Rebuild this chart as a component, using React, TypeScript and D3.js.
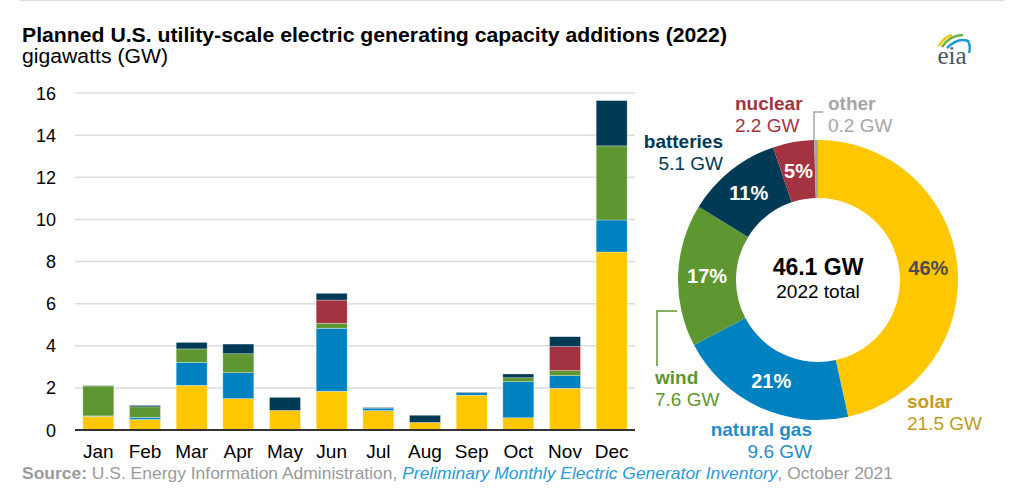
import React from "react";
import * as d3 from "d3";

const months = ["Jan", "Feb", "Mar", "Apr", "May", "Jun", "Jul", "Aug", "Sep", "Oct", "Nov", "Dec"];
const solar = [0.65, 0.5, 2.12, 1.49, 0.93, 1.84, 0.92, 0.36, 1.65, 0.58, 1.98, 8.45];
const naturalGas = [0.02, 0.1, 1.09, 1.23, 0, 2.99, 0.12, 0, 0.12, 1.71, 0.6, 1.52];
const wind = [1.42, 0.5, 0.64, 0.9, 0, 0.24, 0, 0, 0, 0.19, 0.24, 3.52];
const nuclear = [0, 0, 0, 0, 0, 1.1, 0, 0, 0, 0, 1.14, 0];
const batteries = [0.02, 0.07, 0.31, 0.46, 0.62, 0.32, 0.03, 0.34, 0.03, 0.18, 0.47, 2.15];
const yTicks = [0, 2, 4, 6, 8, 10, 12, 14, 16];

const donutNames = ["solar", "natural gas", "wind", "batteries", "nuclear", "other"];
const donutValues = [21.5, 9.6, 7.6, 5.1, 2.2, 0.2];
const donutPct = ["46%", "21%", "17%", "11%", "5%", ""];
const donutGW = ["21.5 GW", "9.6 GW", "7.6 GW", "5.1 GW", "2.2 GW", "0.2 GW"];

const seriesKeys = ["solar", "naturalGas", "wind", "nuclear", "batteries"];
const seriesValues: Record<string, number[]> = { solar, naturalGas, wind, nuclear, batteries };

const COLORS: Record<string, string> = {
  solar: "#FFC700",
  naturalGas: "#0081C0",
  wind: "#5E9732",
  nuclear: "#A33340",
  batteries: "#003A54",
  other: "#A6A6A6",
};
const donutColors = [COLORS.solar, COLORS.naturalGas, COLORS.wind, COLORS.batteries, COLORS.nuclear, COLORS.other];
const pctColors = ["#4d4d4d", "#fff", "#fff", "#fff", "#fff", "#fff"];
const labelColors = ["#C49A1B", "#1F8CCB", "#5E9732", "#003A54", "#A33340", "#A6A6A6"];

const FONT = "Arial, 'Liberation Sans', sans-serif";

export default function App() {
  const x = d3.scaleBand<string>().domain(months).range([75, 635]).paddingInner(0.336).paddingOuter(0.168);
  const y = d3.scaleLinear().domain([0, 16]).range([430, 93]);

  const rows = months.map((m, i) => {
    const r: any = { month: m };
    seriesKeys.forEach((k) => (r[k] = seriesValues[k][i]));
    return r;
  });
  const stacked = d3.stack<any>().keys(seriesKeys)(rows);

  const cx = 818, cy = 280, rOuter = 140, rInner = 82;
  const pie = d3.pie<number>().sort(null).value((d) => d)(donutValues);
  const arc = d3.arc<d3.PieArcDatum<number>>().innerRadius(rInner).outerRadius(rOuter);
  const labelArc = d3.arc<d3.PieArcDatum<number>>().innerRadius(111).outerRadius(111);

  const outside: [number, number, string][] = [
    [907, 408, "start"],
    [812, 436, "end"],
    [655, 384, "start"],
    [723, 148, "end"],
    [735, 110, "start"],
    [828, 110, "start"],
  ];

  return (
    <svg width={1024} height={488} style={{ position: "absolute", left: 0, top: 0 }} fontFamily={FONT}>
      <rect width={1024} height={488} fill="#fff" />
      <line x1={20} x2={1004} y1={0.5} y2={0.5} stroke="#dddddd" strokeWidth={1.5} />
      <text x={22} y={42} fontSize={21} fontWeight="bold" fill="#000" textLength={705} lengthAdjust="spacingAndGlyphs">
        Planned U.S. utility-scale electric generating capacity additions (2022)
      </text>
      <text x={22} y={63} fontSize={20.5} fill="#000" textLength={146} lengthAdjust="spacingAndGlyphs">
        gigawatts (GW)
      </text>

      {/* logo */}
      <g>
        <path d="M939,46 Q944,37 952,35" fill="none" stroke="#F2C811" strokeWidth={2.5} />
        <path d="M942,47 Q950,35 963,35" fill="none" stroke="#6DB33F" strokeWidth={2.5} />
        <path d="M947,48 Q958,37 968,41 Q971,46 969,53" fill="none" stroke="#1E9AD6" strokeWidth={2.5} />
        <text x={952} y={64} fontSize={25} fontFamily="'Liberation Serif', serif" fill="#465563" textAnchor="middle">
          eia
        </text>
      </g>

      {/* grid */}
      {yTicks.filter((t) => t > 0).map((t) => (
        <line key={t} x1={75} x2={635} y1={y(t)} y2={y(t)} stroke="#dcdcdc" strokeWidth={1.5} />
      ))}
      {yTicks.map((t) => (
        <text key={"l" + t} x={56} y={y(t) + 6.5} fontSize={18} textAnchor="end" fill="#000">
          {t}
        </text>
      ))}

      {/* bars */}
      {stacked.map((s) => (
        <g key={s.key} fill={COLORS[s.key]}>
          {s.map((d, i) =>
            d[1] - d[0] > 0 ? (
              <rect
                key={i}
                x={x(months[i])}
                width={x.bandwidth()}
                y={y(d[1])}
                height={y(d[0]) - y(d[1])}
                stroke="#ffffff"
                strokeOpacity={0.5}
                strokeWidth={0.6}
              />
            ) : null
          )}
        </g>
      ))}
      <line x1={75} x2={635} y1={430} y2={430} stroke="#333" strokeWidth={2} />
      {months.map((m) => (
        <text key={m} x={(x(m) as number) + x.bandwidth() / 2} y={458} fontSize={19} textAnchor="middle" fill="#000">
          {m}
        </text>
      ))}

      {/* donut */}
      <g transform={`translate(${cx},${cy})`}>
        {pie.map((p, i) => (
          <path key={i} d={arc(p) as string} fill={donutColors[i]} />
        ))}
        {pie.map((p, i) => {
          if (!donutPct[i]) return null;
          const [lx, ly] = labelArc.centroid(p);
          return (
            <text key={"p" + i} x={lx} y={ly + 7} fontSize={20} fontWeight="bold" textAnchor="middle" fill={pctColors[i]}>
              {donutPct[i]}
            </text>
          );
        })}
        <text x={0} y={-5} fontSize={23} fontWeight="bold" textAnchor="middle" fill="#000">
          46.1 GW
        </text>
        <text x={0} y={18} fontSize={19} textAnchor="middle" fill="#000">
          2022 total
        </text>
      </g>

      {/* outside labels */}
      {outside.map(([lx, ly, anchor], i) => (
        <g key={"o" + i} fill={labelColors[i]} textAnchor={anchor as any}>
          <text x={lx} y={ly} fontSize={19} fontWeight="bold">
            {donutNames[i]}
          </text>
          <text x={lx} y={ly + 21.5} fontSize={19}>
            {donutGW[i]}
          </text>
        </g>
      ))}
      <path d="M677,311 H657 V366" fill="none" stroke={COLORS.wind} strokeWidth={1.5} />
      <path d="M823,112 H814 V140" fill="none" stroke={COLORS.other} strokeWidth={1.5} />

      {/* source */}
      <text x={22} y={479} fontSize={16.5} fill="#9a9a9a" textLength={871} lengthAdjust="spacingAndGlyphs">
        <tspan fontWeight="bold">Source:</tspan>
        <tspan> U.S. Energy Information Administration, </tspan>
        <tspan fill="#2A9AD8" fontStyle="italic">Preliminary Monthly Electric Generator Inventory</tspan>
        <tspan>, October 2021</tspan>
      </text>
    </svg>
  );
}
